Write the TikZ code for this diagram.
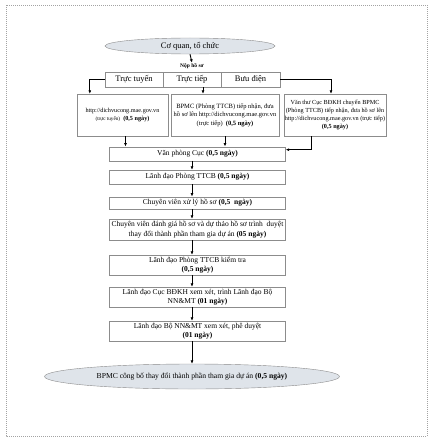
\documentclass[tikz,border=0pt]{standalone}
\usepackage{fontspec}
\setmainfont{Liberation Serif}
\usetikzlibrary{arrows.meta,shapes.geometric}
\definecolor{ovalfill}{HTML}{DFE4EA}
\definecolor{boxline}{HTML}{8C8C8C}
\tikzset{stepbox/.style={%
        rectangle,
        minimum width=176pt,inner sep=1pt,
        align=center,
        font=\fontsize{7.5}{9.5}\selectfont,
        fill=white,
        draw=boxline}}
\tikzset{inbox/.style={stepbox,minimum height=42pt,font=\fontsize{6.5}{8.5}\selectfont}}
\tikzset{cell/.style={stepbox,minimum width=58pt,minimum height=15pt,font=\fontsize{8.5}{10}\selectfont}}
\tikzset{oval/.style={ellipse,inner sep=0pt,fill=ovalfill,draw=boxline}}
\tikzset{link/.style={line width=0.9pt,-{Latex[length=3.5pt,width=3pt]}}}

\begin{document}
\begin{tikzpicture}[x=1pt,y=-1pt]
  \useasboundingbox (0,0) rectangle (433,441);
  \draw [boxline!80,dash pattern=on 1pt off 1pt] (6,5) rectangle (427,436);
  \coordinate (axis) at (192,0);
  % submission
  \node [oval,minimum width=170pt,minimum height=16pt,font=\fontsize{8.5}{10}\selectfont] (org) at (190,46) {Cơ quan, tổ chức};
  \node [font=\bfseries\fontsize{5.5}{6}\selectfont,inner sep=0.5pt] (submit) at (192,66) {Nộp hồ sơ};
  \node [cell] (online) at (134,79.5) {Trực tuyến};
  \node [cell] (direct) at (192,79.5) {Trực tiếp};
  \node [cell,minimum width=59pt] (post) at (250.5,79.5) {Bưu điện};
  \node [inbox,minimum width=91pt,font=\fontsize{6.2}{8}\selectfont] (web) at (122.5,115) {http://dichvucong.mae.gov.vn\\{\fontsize{5.2}{8}\selectfont(trực tuyến)}\ \ \textbf{(0,5 ngày)}};
  \node [inbox,minimum width=108pt] (bpmc) at (225,115) {BPMC (Phòng TTCB) tiếp nhận, đưa\\hồ sơ lên http://dichvucong.mae.gov.vn\\(trực tiếp)\ \ \textbf{(0,5 ngày)}};
  \node [inbox,minimum width=102pt,font=\fontsize{6.2}{8}\selectfont] (clerk) at (335,115) {Văn thư Cục BĐKH chuyển BPMC\\(Phòng TTCB) tiếp nhận, đưa hồ sơ lên\\http://dichvucong.mae.gov.vn (trực tiếp)\\\textbf{(0,5 ngày)}};
  % processing
  \node [stepbox,minimum height=14pt] (office) at (197.5,153.7) {Văn phòng Cục \textbf{(0,5 ngày)}};
  \node [stepbox,minimum height=14pt] (head) at (197.5,177) {Lãnh đạo Phòng TTCB \textbf{(0,5 ngày)}};
  \node [stepbox,minimum height=12.5pt] (handler) at (197.5,203) {Chuyên viên xử lý hồ sơ \textbf{(0,5\ \ ngày)}};
  \node [stepbox,minimum height=21pt] (review) at (197.5,229.5) {Chuyên viên đánh giá hồ sơ và dự thảo hồ sơ trình\ \ duyệt\\thay đổi thành phần tham gia dự án \textbf{(05 ngày)}};
  \node [stepbox,minimum height=20pt] (check) at (197.5,265) {Lãnh đạo Phòng TTCB kiểm tra\\\textbf{(0,5 ngày)}};
  \node [stepbox,minimum height=20pt] (dept) at (197.5,297) {Lãnh đạo Cục BĐKH xem xét, trình Lãnh đạo Bộ\\NN\&MT \textbf{(01 ngày)}};
  \node [stepbox,minimum height=20pt] (ministry) at (197.5,331) {Lãnh đạo Bộ NN\&MT xem xét, phê duyệt\\\textbf{(01 ngày)}};
  \node [oval,minimum width=295pt,minimum height=25pt,font=\fontsize{7.6}{9}\selectfont] (publish) at (192,376.5) {BPMC công bố thay đổi thành phần tham gia dự án \textbf{(0,5 ngày)}};
  \draw [link] (org.south) -- (submit.north);
  \draw [link] (online.west) -| ([xshift=13pt]web.north west);
  \draw [link] ([xshift=11pt]direct.south) -- ([xshift=11pt]direct.south |- bpmc.north);
  \draw [link] (post.east) -| ([xshift=-4pt]clerk.north);
  \draw [link] ([xshift=3pt]web.south) -- ([xshift=3pt]web.south |- office.north);
  \draw [link] (bpmc.south) -- (bpmc.south |- office.north);
  \draw [link] ([xshift=-24pt]clerk.south) |- ([yshift=4pt]office.east);
  \draw [link] (office.south -| axis) -- (head.north -| axis);
  \draw [link] (head.south -| axis) -- (handler.north -| axis);
  \draw [link] (handler.south -| axis) -- (review.north -| axis);
  \draw [link] (review.south -| axis) -- (check.north -| axis);
  \draw [link] (check.south -| axis) -- (dept.north -| axis);
  \draw [link] (dept.south -| axis) -- (ministry.north -| axis);
  \draw [link] (ministry.south -| axis) -- (publish.north -| axis);
\end{tikzpicture}
\end{document}
